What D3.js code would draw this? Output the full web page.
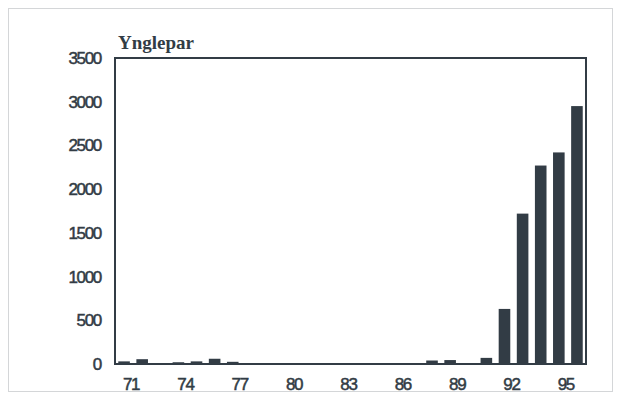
<!DOCTYPE html>
<html>
<head>
<meta charset="utf-8">
<script src="https://cdn.jsdelivr.net/npm/d3@7"></script>
<style>
  html, body { margin: 0; padding: 0; background: #fff; }
  svg { display: block; }
</style>
</head>
<body>
<script>
// Breeding pairs per year, 1971–1996
const years = ["71","72","73","74","75","76","77","78","79","80","81","82","83",
               "84","85","86","87","88","89","90","91","92","93","94","95","96"];
const pairs = [30, 55, 10, 20, 30, 60, 25, 0, 0, 0, 0, 5, 0,
               10, 0, 0, 0, 40, 45, 0, 70, 630, 1720, 2270, 2420, 2950];
const yTicks = [0, 500, 1000, 1500, 2000, 2500, 3000, 3500];
const xTickLabels = ["71","74","77","80","83","86","89","92","95"];
const yTitle = "Ynglepar";

const W = 623, H = 401;
const m = { left: 115, right: 37, top: 58, bottom: 37 };
const ink = "#323c45";

const svg = d3.select("body").append("svg").attr("width", W).attr("height", H);

// faint outer frame
svg.append("rect").attr("x", 8.5).attr("y", 8.5).attr("width", 604).attr("height", 383)
  .attr("fill", "none").attr("stroke", "#d4d6d8").attr("stroke-width", 1);

const x = d3.scaleBand().domain(years).range([m.left, W - m.right]).paddingInner(0.36).paddingOuter(0.18);
const y = d3.scaleLinear().domain([0, 3500]).range([H - m.bottom, m.top]);

// bars
svg.append("g").selectAll("rect").data(years).join("rect")
  .attr("x", d => x(d))
  .attr("width", x.bandwidth())
  .attr("y", (d, i) => y(pairs[i]))
  .attr("height", (d, i) => y(0) - y(pairs[i]))
  .attr("fill", ink);

// plot frame
svg.append("rect")
  .attr("x", m.left).attr("y", m.top)
  .attr("width", W - m.right - m.left).attr("height", H - m.bottom - m.top)
  .attr("fill", "none").attr("stroke", ink).attr("stroke-width", 2);

const tickFont = sel => sel
  .attr("font-family", "Liberation Sans, Arial, sans-serif")
  .attr("font-size", 17).attr("letter-spacing", "-1.3px")
  .attr("fill", ink).attr("stroke", ink).attr("stroke-width", 0.5);

// y axis
const yAxis = svg.append("g").attr("transform", `translate(${m.left},0)`)
  .call(d3.axisLeft(y).tickValues(yTicks).tickSize(0).tickPadding(14).tickFormat(d3.format("d")));
yAxis.select(".domain").remove();
yAxis.selectAll("text").call(tickFont);

// x axis
const xAxis = svg.append("g").attr("transform", `translate(0,${H - m.bottom})`)
  .call(d3.axisBottom(x).tickValues(xTickLabels).tickSize(0).tickPadding(14));
xAxis.select(".domain").remove();
xAxis.selectAll("text").call(tickFont).attr("dx", 7);

// axis title
svg.append("text")
  .attr("x", m.left + 3).attr("y", 49)
  .attr("font-family", "Liberation Serif, Times New Roman, serif")
  .attr("font-weight", "bold").attr("font-size", 19)
  .attr("fill", ink)
  .text(yTitle);
</script>
</body>
</html>
